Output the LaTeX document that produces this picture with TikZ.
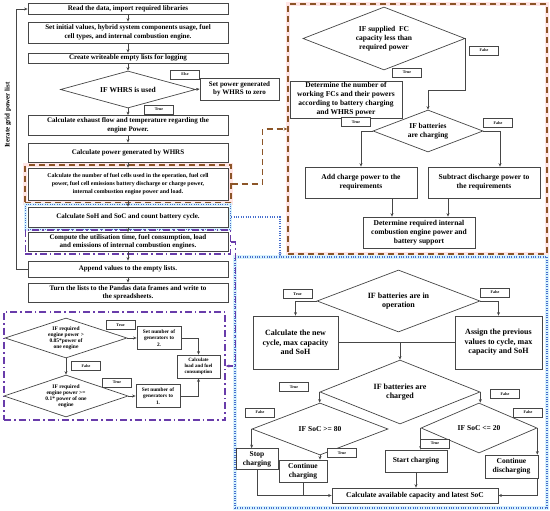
\documentclass[tikz,border=0pt]{standalone}
\usepackage{fontspec}
\setmainfont{Liberation Serif}
\usepackage{tikz}
\usetikzlibrary{arrows.meta,positioning,shapes.geometric,fit}
\definecolor{frbrown}{RGB}{140,85,40}
\definecolor{frblue}{RGB}{70,110,205}
\definecolor{frpurple}{RGB}{105,60,170}
\definecolor{boxgray}{RGB}{70,70,70}

\begin{document}
\begin{tikzpicture}[x=1pt, y=-1pt,
  mbox/.style={rectangle, draw=boxgray, line width=0.8pt, fill=white,
               minimum width=200, align=center, inner sep=1pt,
               font=\fontsize{7}{8.4}\selectfont\bfseries},
  sbox/.style={rectangle, draw=boxgray, line width=0.7pt, fill=white,
               align=center, inner sep=1pt,
               font=\fontsize{7.5}{9}\selectfont\bfseries},
  gbox/.style={sbox, font=\fontsize{5.3}{6.3}\selectfont\bfseries},
  dbox/.style={diamond, draw=boxgray, line width=0.7pt, fill=white,
               align=center, inner sep=0pt,
               font=\fontsize{7.5}{9}\selectfont\bfseries},
  tbox/.style={rectangle, draw=boxgray, line width=0.6pt, fill=white,
               minimum width=29, minimum height=9, inner sep=0pt,
               font=\fontsize{4}{4}\selectfont\bfseries},
  farr/.style={-{Stealth[length=3.5pt,width=3pt]}, line width=0.6pt, draw=boxgray},
  fline/.style={line width=0.6pt, draw=boxgray},
  brframe/.style={draw=frbrown, line width=1.5pt, dash pattern=on 6pt off 4pt,
                  preaction={draw=pink!40, line width=3.5pt, solid}},
  blframe/.style={draw=frblue, line width=1.2pt, dash pattern=on 1pt off 1.4pt,
                  preaction={draw=cyan!15, line width=3.5pt, solid}},
  puframe/.style={draw=frpurple, line width=1.4pt,
                  dash pattern=on 7pt off 3pt on 1.5pt off 3pt},
  brline/.style={draw=frbrown, line width=1.5pt, dash pattern=on 6pt off 4pt},
  blline/.style={draw=frblue, line width=1.2pt, dash pattern=on 1pt off 1.4pt},
  puline/.style={draw=frpurple, line width=1.4pt, dash pattern=on 7pt off 3pt on 1.5pt off 3pt}
]
\useasboundingbox (0,0) rectangle (550,511);

% Detail frames
\node[brframe, minimum width=259, minimum height=250, inner sep=0pt] (fcfrm)  at (417.5,129) {};
\node[blframe, minimum width=312, minimum height=251, inner sep=0pt] (bfrm)   at (391,382.5) {};
\node[puframe, minimum width=221, minimum height=108, inner sep=0pt] (genfrm) at (114.5,366) {};

% Main flow
\node[mbox, minimum height=11] (read)   at (128,9)     {Read the data, import required libraries};
\node[mbox, minimum height=21] (init)   at (128,32.5)  {Set initial values, hybrid system components usage, fuel\\cell types, and internal combustion engine.};
\node[mbox, minimum height=10] (lists)  at (128,58)    {Create writeable empty lists for logging};
\node[dbox, minimum width=135, minimum height=37, aspect=3.6] (whrs) at (128,89.5) {IF WHRS is used};
\node[sbox, minimum width=79, minimum height=22, font=\fontsize{7}{8.4}\selectfont\bfseries] (zero) at (239.5,89) {Set power generated\\by WHRS to zero};
\node[mbox, minimum height=20] (exh)    at (128,125.5) {Calculate exhaust flow and temperature regarding the\\engine Power.};
\node[mbox, minimum height=19] (whrspw) at (128,152.5) {Calculate power generated by WHRS};
\node[mbox, minimum height=32, font=\fontsize{5.9}{7.6}\selectfont\bfseries] (fcell) at (128,184) {Calculate the number of fuel cells used in the operation, fuel cell\\power, fuel cell emissions battery discharge or charge power,\\internal combustion engine power and load.};
\node[mbox, minimum height=20] (soh)    at (128,217)   {Calculate SoH and SoC and count battery cycle.};
\node[mbox, minimum height=19] (comp)   at (128,242)   {Compute the utilisation time, fuel consumption, load\\and emissions of internal combustion engines.};
\node[mbox, minimum height=16] (app)    at (128,269)   {Append values to the empty lists.};
\node[mbox, minimum height=19] (turn)   at (128,292.5) {Turn the lists to the Pandas data frames and write to\\the spreadsheets.};
\node[rotate=90, font=\fontsize{7}{8}\selectfont\bfseries] (iter) at (8,115) {Iterate grid power list};

\node[brframe, fit=(fcell), inner sep=2.5pt] (fcellfrm) {};
\node[blframe, fit=(soh),   inner sep=2.2pt] (sohfrm) {};
\node[puframe, fit=(comp),  inner sep=2.2pt] (compfrm) {};

\draw[farr] (read) -- (init);
\draw[farr] (init) -- (lists);
\draw[farr] (lists) -- (whrs);
\draw[farr] (whrs.east) -- (zero.west);
\draw[farr] (whrs) -- (exh);
\draw[farr] (exh) -- (whrspw);
\draw[farr] (whrspw) -- (fcell);
\draw[farr] (fcell) -- (soh);
\draw[farr] (soh) -- (comp);
\draw[farr] (comp) -- (app);
\draw[farr] (app) -- (turn);
\draw[farr] (app.west) -- ++(-11,0) |- (read.west);
\node[tbox] (elsel) at (185,74.5)  {Else};
\node[tbox] (truel) at (159,109.5) {True};

% Links to the detail frames
\draw[farr, brline] (fcellfrm.east) -- ++(31,0) |- (fcfrm.west);
\draw[farr, blline] (sohfrm.east) -| ([xshift=-111pt]bfrm.north);
\draw[farr, puline] (compfrm.east) -- ++(4,0) |- (genfrm.east);

% Fuel cell frame
\node[dbox, minimum width=162, minimum height=63, aspect=2.6] (fcdia) at (384,38.5) {IF supplied\ \ FC\\capacity less than\\required power};
\node[sbox, minimum width=112, minimum height=37] (fcnum)  at (346,99.5)  {Determine the number of\\working FCs and their powers\\according to battery charging\\and WHRS power};
\node[dbox, minimum width=110, minimum height=42, aspect=2.6] (batdia) at (428,131) {IF batteries\\are charging};
\node[sbox, minimum width=112, minimum height=31] (addchg) at (361,182.5) {Add charge power to the\\requirements};
\node[sbox, minimum width=112, minimum height=31] (subdis) at (484,182.5) {Subtract discharge power to\\the requirements};
\node[sbox, minimum width=112, minimum height=31] (detice) at (419,232.5) {Determine required internal\\combustion engine power and\\battery support};

\draw[farr] (fcdia.east) -- ++(0,52) -| (batdia.north);
\draw[farr] (batdia.west) -| (addchg.north);
\draw[farr] (batdia.east) -| ([xshift=16pt]subdis.north);
\draw[farr] ([xshift=31pt]addchg.south) -- ([xshift=-27pt]detice.north);
\draw[farr] ([xshift=-36pt]subdis.south) -- ([xshift=29pt]detice.north);
\node[tbox] (false1) at (484,50.5)  {False};
\node[tbox] (true1)  at (407,72.5)  {True};
\node[tbox] (true2)  at (356,122)   {True};
\node[tbox] (false2) at (498,123)   {False};

% Battery frame
\node[dbox, minimum width=163, minimum height=62, aspect=2.6, font=\fontsize{8}{9.5}\selectfont\bfseries] (opdia) at (398.5,301) {IF batteries are in\\operation};
\node[sbox, minimum width=85, minimum height=53, font=\fontsize{8}{9.5}\selectfont\bfseries] (newcyc)  at (295.5,342.5) {Calculate the new\\cycle, max capacity\\and SoH};
\node[sbox, minimum width=87, minimum height=53, font=\fontsize{8}{9.5}\selectfont\bfseries] (prevval) at (498.5,342.5) {Assign the previous\\values to cycle, max\\capacity and SoH};
\node[dbox, minimum width=160, minimum height=64, aspect=2.5, font=\fontsize{8}{9.5}\selectfont\bfseries] (chdia) at (400,392) {IF batteries are\\charged};
\node[dbox, minimum width=136, minimum height=52, aspect=2.6] (socH) at (320,429) {IF SoC >= 80};
\node[dbox, minimum width=116, minimum height=50, aspect=2.3] (socL) at (479,428) {IF SoC <= 20};
\node[sbox, minimum width=42, minimum height=21]  (stopch)  at (257,459)   {Stop\\charging};
\node[sbox, minimum width=48, minimum height=22]  (contch)  at (303,471)   {Continue\\charging};
\node[sbox, minimum width=62, minimum height=22]  (startch) at (416,461)   {Start charging};
\node[sbox, minimum width=53, minimum height=23]  (contdis) at (511.5,466.5) {Continue\\discharging};
\node[sbox, minimum width=166, minimum height=15] (calcsoc) at (415,495.5) {Calculate available capacity and latest SoC};

\draw[farr] (opdia.west) -| (newcyc.north);
\draw[farr] (opdia.east) -| (prevval.north);
\draw[fline] (newcyc) -- (prevval);
\draw[farr] (newcyc.east -| chdia.north) -- (chdia.north);
\draw[farr] (chdia.west) -- (chdia.west |- socH.north);
\draw[farr] (chdia.east) -- (chdia.east |- socL.north);
\draw[farr] (socH.west) -- (socH.west |- stopch.north);
\draw[farr] (socH.south) -- (socH.south |- contch.north);
\draw[farr] (socL.west) -- (socL.west |- startch.north);
\draw[farr] (socL.east) -- (socL.east |- contdis.north);
\draw[farr] (stopch.south) |- (calcsoc.west);
\draw[fline] (contch.south) -- (contch.south |- calcsoc.west);
\draw[farr] (startch.south) -- (startch.south |- calcsoc.north);
\draw[farr] (socL.east |- contdis.south) |- (calcsoc.east);
\node[tbox] (true3)  at (297.5,294) {True};
\node[tbox] (false3) at (495,292.5) {False};
\node[tbox] (true4)  at (294,387)   {True};
\node[tbox] (false4) at (505,394)   {False};
\node[tbox] (false5) at (260,412.5) {False};
\node[tbox] (false6) at (528,412.5) {False};
\node[tbox] (true5)  at (342,453)   {True};
\node[tbox] (true6)  at (435,443.5) {True};

% Generator frame
\node[dbox, minimum width=122, minimum height=40, aspect=3, font=\fontsize{5.5}{6.2}\selectfont\bfseries] (eng1) at (66,338) {IF required\\engine power >\\0.85*power of\\one engine};
\node[gbox, minimum width=44, minimum height=23] (gen2)   at (159,338)   {Set number of\\generators to\\2.};
\node[gbox, minimum width=43, minimum height=23, font=\fontsize{5}{6}\selectfont\bfseries] (calcld) at (198.5,366.5) {Calculate\\load and fuel\\consumption};
\node[dbox, minimum width=124, minimum height=42, aspect=3, font=\fontsize{5.5}{6.2}\selectfont\bfseries] (eng2) at (66,396) {IF required\\engine power >=\\0.1* power of one\\engine};
\node[gbox, minimum width=44, minimum height=23] (gen1)   at (158,396)   {Set number of\\generators to\\1.};

\draw[farr] (eng1.east) -- (gen2.west);
\draw[farr] (gen2.east) -| (calcld.north);
\draw[farr] (eng1.south) -- (eng2.north);
\draw[farr] (eng2.east) -- (gen1.west);
\draw[farr] (gen1.east) -| (calcld.south);
\node[tbox] (true7)  at (120.5,325) {True};
\node[tbox] (false7) at (86,366)    {False};
\node[tbox] (true8)  at (117,382.5) {True};
\end{tikzpicture}
\end{document}
